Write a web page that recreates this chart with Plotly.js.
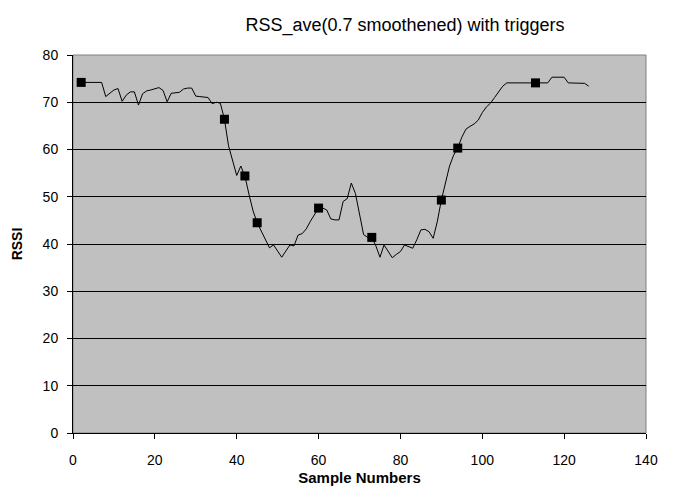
<!DOCTYPE html>
<html>
<head>
<meta charset="utf-8">
<script src="https://cdn.plot.ly/plotly-3.0.1.min.js"></script>
<style>html,body{margin:0;padding:0;background:#fff;}#chart{width:673px;height:493px;}</style>
</head>
<body>
<div id="chart"></div>
<script>
// Sample numbers 2..126
var sampleNumbers = [];
for (var i = 2; i <= 126; i++) sampleNumbers.push(i);

var rssAve = [
  74.2, 74.2, 74.2, 74.2, 74.2, 74.2, 71.2, 72.0, 72.6, 72.9,   // 2-11
  70.2, 71.5, 72.2, 72.2, 69.4, 71.8, 72.4, 72.6, 72.8, 73.1,   // 12-21
  72.5, 70.1, 71.9, 72.0, 72.1, 72.8, 73.0, 73.0, 71.3, 71.2,   // 22-31
  71.1, 71.0, 69.7, 70.0, 69.8, 66.4, 60.8, 57.6, 54.5, 56.5,   // 32-41
  54.4, 50.5, 47.0, 44.5, 42.8, 40.8, 39.2, 39.8, 38.5, 37.2,   // 42-51
  38.5, 39.8, 39.6, 41.9, 42.2, 43.2, 44.8, 46.3, 47.6, 47.6,   // 52-61
  47.2, 45.3, 45.1, 45.1, 49.0, 49.6, 52.9, 50.7, 46.0, 42.0,   // 62-71
  41.4, 41.4, 39.6, 37.2, 39.8, 38.5, 37.1, 37.8, 38.4, 39.8,   // 72-81
  39.4, 39.1, 40.9, 43.0, 43.1, 42.6, 41.2, 44.7, 49.3, 52.9,   // 82-91
  56.5, 58.8, 60.3, 62.6, 64.3, 64.9, 65.4, 66.2, 67.8, 69.0,   // 92-101
  69.8, 71.0, 72.3, 73.4, 74.1, 74.1, 74.1, 74.1, 74.1, 74.1,   // 102-111
  74.1, 74.1, 74.1, 74.1, 74.1, 75.3, 75.3, 75.3, 75.3, 74.1,   // 112-121
  74.1, 74.1, 74.1, 74.0, 73.4                                  // 122-126
];

var triggerSamples = [2, 37, 42, 45, 60, 73, 90, 94, 113];
var triggerValues = [74.2, 66.4, 54.4, 44.5, 47.6, 41.4, 49.3, 60.3, 74.1];

var xTickVals = [0, 20, 40, 60, 80, 100, 120, 140];
var yTickVals = [0, 10, 20, 30, 40, 50, 60, 70, 80];

var FONT = 'Liberation Sans, Arial, sans-serif';

var traces = [
  {
    x: sampleNumbers, y: rssAve, type: 'scatter', mode: 'lines',
    line: {color: '#000', width: 1}, hoverinfo: 'skip', showlegend: false
  },
  {
    x: triggerSamples, y: triggerValues, type: 'scatter', mode: 'markers',
    marker: {symbol: 'square', size: 9, color: '#000'}, showlegend: false
  }
];

var layout = {
  width: 673, height: 493,
  margin: {l: 73, r: 27, t: 55, b: 60, pad: 0},
  paper_bgcolor: '#ffffff',
  plot_bgcolor: '#c0c0c0',
  font: {family: FONT, size: 14, color: '#000'},
  title: {
    text: 'RSS_ave(0.7 smoothened) with triggers',
    font: {family: FONT, size: 18, color: '#000'},
    x: 405 / 673, xanchor: 'center', xref: 'container',
    y: 0.95, yanchor: 'middle', yref: 'container'
  },
  xaxis: {
    range: [0, 140], tickvals: xTickVals, ticktext: xTickVals.map(String),
    showgrid: false, zeroline: false,
    showline: true, linecolor: '#000', linewidth: 1,
    ticks: 'outside', ticklen: 5, tickcolor: '#000', tickwidth: 1,
    ticklabelstandoff: 9,
    tickfont: {family: FONT, size: 14},
    title: {text: '<b>Sample Numbers</b>', font: {family: FONT, size: 15}, standoff: 5}
  },
  yaxis: {
    range: [0, 80], tickvals: yTickVals, ticktext: yTickVals.map(String),
    showgrid: true, gridcolor: '#000', gridwidth: 1,
    zeroline: false,
    showline: true, linecolor: '#000', linewidth: 1,
    ticks: 'outside', ticklen: 5, tickcolor: '#000', tickwidth: 1,
    ticklabelstandoff: 6,
    tickfont: {family: FONT, size: 14},
    title: {text: '<b>RSSI</b>', font: {family: FONT, size: 14}, standoff: 16}
  },
  shapes: [
    {type: 'rect', xref: 'paper', yref: 'paper', x0: 0, x1: 1, y0: 0, y1: 1,
     line: {color: '#808080', width: 1}, layer: 'below'}
  ]
};

Plotly.newPlot('chart', traces, layout, {displayModeBar: false, staticPlot: true});
</script>
</body>
</html>
